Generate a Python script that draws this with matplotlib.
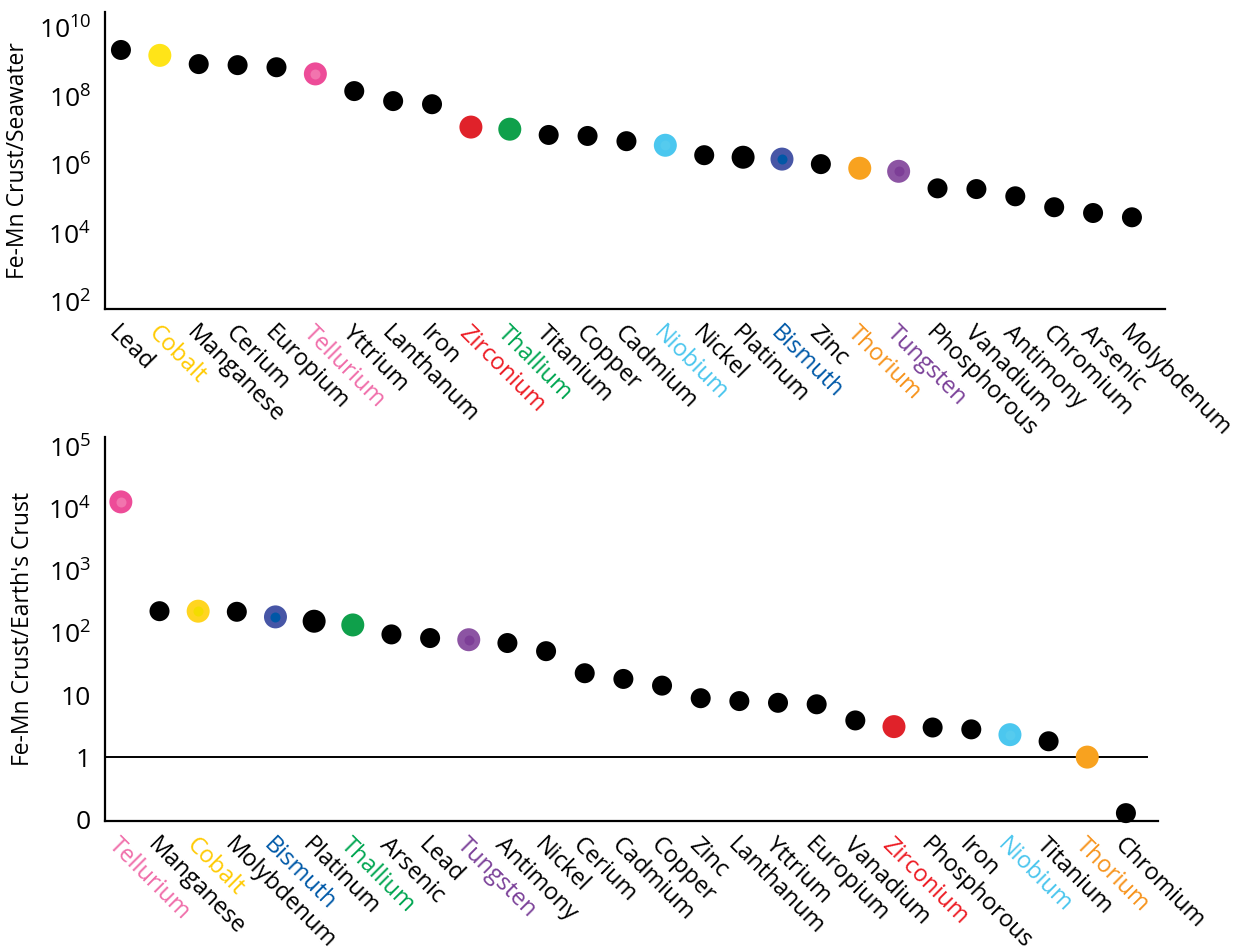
import matplotlib
matplotlib.use("Agg")
import matplotlib.pyplot as plt
import matplotlib.transforms as mtransforms

# Enrichment of elements in Fe-Mn crusts relative to seawater
seawater_elements = [
    "Lead", "Cobalt", "Manganese", "Cerium", "Europium", "Tellurium", "Yttrium",
    "Lanthanum", "Iron", "Zirconium", "Thallium", "Titanium", "Copper", "Cadmium",
    "Niobium", "Nickel", "Platinum", "Bismuth", "Zinc", "Thorium", "Tungsten",
    "Phosphorous", "Vanadium", "Antimony", "Chromium", "Arsenic", "Molybdenum",
]
seawater_ratio = [
    2.3e9, 1.6e9, 8.9e8, 8.3e8, 7.2e8, 4.6e8, 1.45e8,
    7.4e7, 6.0e7, 1.29e7, 1.12e7, 7.6e6, 7.1e6, 5.0e6,
    3.8e6, 1.95e6, 1.7e6, 1.5e6, 1.07e6, 8.1e5, 6.6e5,
    2.1e5, 2.0e5, 1.23e5, 5.9e4, 4.0e4, 3.0e4,
]

# Enrichment of elements in Fe-Mn crusts relative to Earth's crust
crust_elements = [
    "Tellurium", "Manganese", "Cobalt", "Molybdenum", "Bismuth", "Platinum",
    "Thallium", "Arsenic", "Lead", "Tungsten", "Antimony", "Nickel", "Cerium",
    "Cadmium", "Copper", "Zinc", "Lanthanum", "Yttrium", "Europium", "Vanadium",
    "Zirconium", "Phosphorous", "Iron", "Niobium", "Titanium", "Thorium", "Chromium",
]
crust_ratio = [
    13000, 225, 225, 220, 182, 155,
    135, 95, 83, 78, 69, 51, 22.5,
    18.2, 14.2, 8.9, 8.0, 7.5, 7.1, 3.9,
    3.1, 3.0, 2.8, 2.3, 1.8, 1.0, 0.125,
]

seawater_ticks = [1e2, 1e4, 1e6, 1e8, 1e10]
seawater_ticklabels = ["$\\mathregular{10^2}$", "$\\mathregular{10^4}$", "$\\mathregular{10^6}$",
                       "$\\mathregular{10^8}$", "$\\mathregular{10^{10}}$"]
crust_ticks = [0.1, 1, 10, 1e2, 1e3, 1e4, 1e5]
crust_ticklabels = ["0", "1", "10", "$\\mathregular{10^2}$", "$\\mathregular{10^3}$",
                    "$\\mathregular{10^4}$", "$\\mathregular{10^5}$"]

# Highlight colours: (marker colour, inner dot colour, label colour)
highlight = {
    "Tellurium": ("#ED4C98", "#F274AE", "#F06EAA"),
    "Cobalt": ("#FFE418", None, "#FFCB05"),
    "Zirconium": ("#E0222A", None, "#ED1C24"),
    "Thallium": ("#0FA04B", None, "#00A651"),
    "Niobium": ("#4BC7EF", "#55CBEE", "#4BC6EE"),
    "Bismuth": ("#4756A6", "#0157A6", "#0059A8"),
    "Thorium": ("#F8A21F", None, "#F7941D"),
    "Tungsten": ("#8C54A3", "#7D3E97", "#7B4199"),
}

plt.rcParams["font.family"] = ["Open Sans", "DejaVu Sans"]
plt.rcParams["mathtext.fontset"] = "custom"
plt.rcParams["mathtext.rm"] = "Open Sans"

DPI = 100
fig = plt.figure(figsize=(12.48, 9.49), dpi=DPI)


def px(n):
    # marker diameter in pixels -> scatter area in points^2
    return (n * 72 / DPI) ** 2


def draw_panel(ax, names, values, panel):
    x = list(range(len(names)))
    colors, sizes = [], []
    for name in names:
        if name in highlight:
            c = highlight[name][0]
            if panel == "crust" and name == "Cobalt":
                c = "#FFD520"
            colors.append(c)
            sizes.append(px(23))
        elif name == "Platinum":
            colors.append("black")
            sizes.append(px(23))
        else:
            colors.append("black")
            sizes.append(px(20))
    ax.scatter(x, values, s=sizes, c=colors, linewidths=0, zorder=3, clip_on=False)

    # small inner dots on the two-tone markers
    for i, name in enumerate(names):
        inner = highlight.get(name, (None, None))[1]
        if panel == "crust" and name == "Cobalt":
            inner = "#F3DC00"
        if inner:
            ax.scatter([x[i]], [values[i]], s=px(10), c=inner, linewidths=0,
                       zorder=4, clip_on=False)

    ax.set_yscale("log")
    ax.set_xticks(x)
    ax.set_xticklabels(names, rotation=-45, ha="left", va="top",
                       rotation_mode="anchor", fontsize=17)
    shift = mtransforms.ScaledTranslation(-22 / DPI, 0, fig.dpi_scale_trans)
    for lab, name in zip(ax.get_xticklabels(), names):
        lab.set_transform(lab.get_transform() + shift)
        if name in highlight:
            lab.set_color(highlight[name][2])

    for side in ("top", "right"):
        ax.spines[side].set_visible(False)
    for side in ("left", "bottom"):
        ax.spines[side].set_linewidth(1.6)
    ax.tick_params(axis="both", length=0)
    ax.tick_params(axis="x", pad=9)
    ax.tick_params(axis="y", pad=10, labelsize=19)
    ax.minorticks_off()


# Upper panel: crust / seawater
ax1 = fig.add_axes([105 / 1248, 1 - 309 / 949, 1060 / 1248, 297 / 949])
draw_panel(ax1, seawater_elements, seawater_ratio, "seawater")
ax1.set_xlim(-0.41, len(seawater_elements) - 1 + 0.85)
ax1.set_ylim(10 ** 1.8, 10 ** 10.47)
ax1.set_yticks(seawater_ticks)
ax1.set_yticklabels(seawater_ticklabels)
ax1.minorticks_off()
ax1.set_ylabel("Fe-Mn Crust/Seawater", fontsize=16.5, labelpad=6)

# Lower panel: crust / Earth's crust
ax2 = fig.add_axes([105 / 1248, 1 - 821 / 949, 1053 / 1248, 384 / 949])
draw_panel(ax2, crust_elements, crust_ratio, "crust")
ax2.set_xlim(-0.41, len(crust_elements) - 1 + 0.83)
ax2.set_ylim(10 ** -1.03, 10 ** 5.16)
ax2.set_yticks(crust_ticks)
ax2.set_yticklabels(crust_ticklabels)
ax2.minorticks_off()
ax2.axhline(1, xmax=0.99, color="black", linewidth=1.4, zorder=2)
ax2.set_ylabel("Fe-Mn Crust/Earth's Crust", fontsize=16.5, labelpad=10)

fig.savefig("out.png", dpi=DPI)
